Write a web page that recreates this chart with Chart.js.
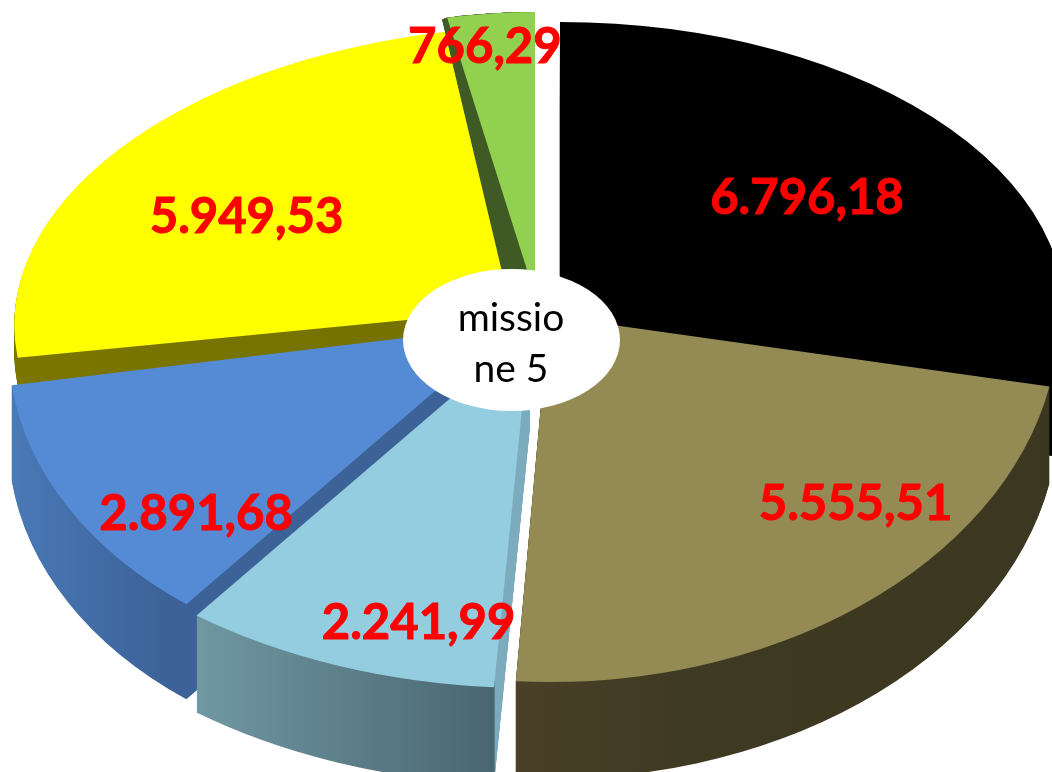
<!DOCTYPE html>
<html>
<head>
<meta charset="utf-8">
<title>missione 5</title>
<script src="https://cdn.jsdelivr.net/npm/chart.js@4"></script>
<style>
  html, body { margin: 0; padding: 0; background: #ffffff; overflow: hidden; }
  canvas { display: block; }
</style>
</head>
<body>
<canvas id="pie" width="1052" height="772"></canvas>
<script>
// values, clockwise from 12 o'clock
const sliceNames = ["nero", "marrone", "azzurro", "blu", "giallo", "verde"];
const sliceValues = [6796.18, 5555.51, 2241.99, 2891.68, 5949.53, 766.29];
const sliceColors = ["#000000", "#948a54", "#93cddf", "#558ad4", "#ffff00", "#92d050"];
const centerLines = ["missio", "ne 5"];

// fake 3D: where each wedge sits on screen (apex, radii, lean)
const frames = [
  { ax: 560, ay: 315, rx: 505, ry: 293, lean: 0 },
  { ax: 549, ay: 316, rx: 510, ry: 366, lean: 0 },
  { ax: 530, ay: 330, rx: 553, ry: 358, lean: 0 },
  { ax: 512, ay: 325, rx: 503, ry: 350, lean: -0.08 },
  { ax: 520, ay: 309, rx: 505, ry: 283, lean: -0.1 },
  { ax: 535, ay: 295, rx: 445, ry: 283, lean: 0 },
];
// side walls: depth in px, sideways drift of the apex, radius change, colour stops by screen x
const walls = [
  { depth: 85, drift: 0, grow: 0, from: 0, to: 1052, stops: [[0, "#000000"], [1, "#000000"]] },
  { depth: 97, drift: 0, grow: 0, from: 513, to: 1052, stops: [[0, "#4a4027"], [0.3, "#3f3a22"], [1, "#3b3720"]] },
  { depth: 97, drift: 0, grow: 0, from: 198, to: 500, stops: [[0, "#6f98a3"], [0.98, "#4a6670"], [0.985, "#7cabbd"], [1, "#7cabbd"]] },
  { depth: 95, drift: 0, grow: 0, from: 12, to: 190, stops: [[0, "#4a7ab8"], [1, "#3c6298"]] },
  { depth: 28, drift: 0, grow: 0, from: 0, to: 1052, stops: [[0, "#7a7600"], [1, "#6e6a00"]] },
  { depth: 2, drift: -27, grow: -0.25, from: 0, to: 1052, stops: [[0, "#3f5a24"], [1, "#3f5a24"]] },
];
const paintOrder = [4, 5, 0, 3, 1, 2];
// label shift from the middle of each wedge
const labelShifts = [[52, -24], [151, 43], [-15, 125], [-94, 98], [-73, -12], [-28, -107]];

function applyFrame(ctx, el, frame, t, wall) {
  const R = el.outerRadius;
  const rx = frame.rx * (1 + (wall ? wall.grow * t : 0));
  const a = rx / R;
  const d = frame.ry / R;
  const c = frame.lean * d;
  const ax = frame.ax + (wall ? wall.drift * t : 0);
  const ay = frame.ay + (wall ? wall.depth * t : 0);
  ctx.transform(a, 0, c, d, ax - a * el.x - c * el.y, ay - d * el.y);
  return { a, e: ax - a * el.x };
}

function paintWith(ctx, el, fill) {
  const saved = el.options;
  el.options = Object.assign({}, saved, { backgroundColor: fill });
  el.draw(ctx);
  el.options = saved;
}

const pie3d = {
  id: "pie3d",
  beforeDatasetsDraw(chart) {
    const ctx = chart.ctx;
    const arcs = chart.getDatasetMeta(0).data;

    paintOrder.forEach((i) => {
      const el = arcs[i];
      const frame = frames[i];
      const wall = walls[i];
      const steps = Math.max(Math.abs(wall.drift), wall.depth);
      for (let s = steps; s >= 1; s--) {
        const t = s / steps;
        ctx.save();
        const m = applyFrame(ctx, el, frame, t, wall);
        const grad = ctx.createLinearGradient((wall.from - m.e) / m.a, 0, (wall.to - m.e) / m.a, 0);
        wall.stops.forEach((st) => grad.addColorStop(st[0], st[1]));
        paintWith(ctx, el, grad);
        ctx.restore();
      }
      ctx.save();
      applyFrame(ctx, el, frame, 0, null);
      paintWith(ctx, el, sliceColors[i]);
      ctx.restore();
    });

    // white hole in the middle
    ctx.save();
    ctx.fillStyle = "#ffffff";
    ctx.beginPath();
    ctx.ellipse(511.5, 340, 108.5, 71, 0, 0, Math.PI * 2);
    ctx.fill();
    ctx.fillStyle = "#000000";
    ctx.font = '39px Lato';
    ctx.textAlign = "center";
    ctx.textBaseline = "middle";
    ctx.fillText(centerLines[0], 511, 318);
    ctx.fillText(centerLines[1], 511, 369);

    // value labels
    ctx.fillStyle = "#ff0000";
    ctx.strokeStyle = "#ff0000";
    ctx.lineWidth = 1;
    ctx.font = 'bold 49px Lato';
    arcs.forEach((el, i) => {
      const mid = (el.startAngle + el.endAngle) / 2;
      const r = (el.innerRadius + el.outerRadius) / 2 / el.outerRadius;
      const f = frames[i];
      const px = f.ax + Math.cos(mid) * r * f.rx + f.lean * Math.sin(mid) * r * f.ry;
      const py = f.ay + Math.sin(mid) * r * f.ry;
      const text = sliceValues[i].toLocaleString("de-DE", { minimumFractionDigits: 2 });
      ctx.fillText(text, px + labelShifts[i][0], py + labelShifts[i][1]);
      ctx.strokeText(text, px + labelShifts[i][0], py + labelShifts[i][1]);
    });
    ctx.restore();
    return false;
  },
};

new Chart(document.getElementById("pie"), {
  type: "pie",
  data: {
    labels: sliceNames,
    datasets: [{ data: sliceValues, backgroundColor: sliceColors, borderWidth: 0, hoverOffset: 0 }],
  },
  options: {
    responsive: false,
    animation: false,
    events: [],
    plugins: { legend: { display: false }, tooltip: { enabled: false } },
  },
  plugins: [pie3d],
});
</script>
</body>
</html>
